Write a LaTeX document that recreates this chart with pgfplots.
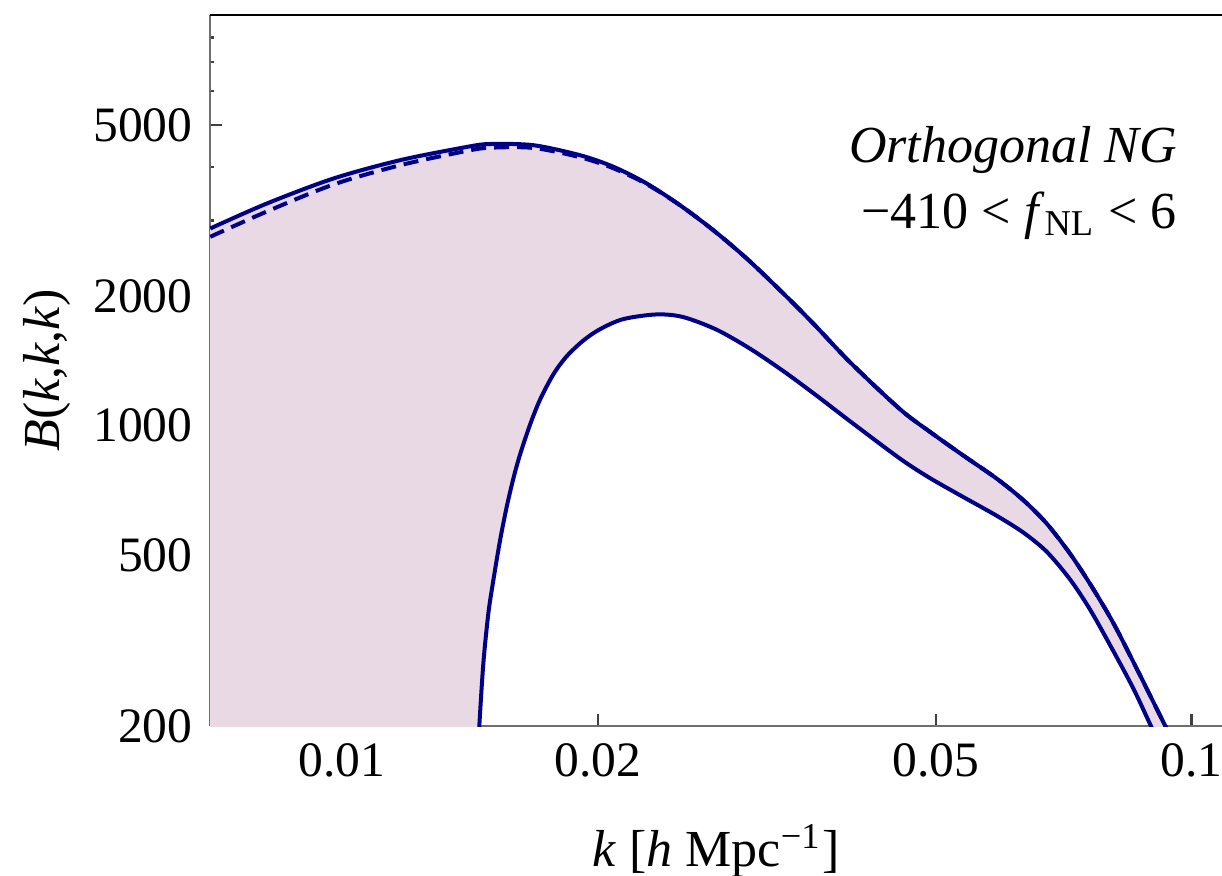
\documentclass[border=0pt]{standalone}
\usepackage{fontspec}
\setmainfont{Liberation Serif}
\usepackage{pgfplots}
\usepackage{pgfplotstable}
\pgfplotsset{compat=1.18}
\usepgfplotslibrary{fillbetween}
\definecolor{linec}{RGB}{0,0,135}
\definecolor{fillc}{RGB}{232,217,228}
\definecolor{axc}{RGB}{110,110,110}
\newcommand{\fs}{\fontsize{10.4pt}{12.5pt}\selectfont}
\newcommand{\ft}{\fontsize{9.9pt}{12pt}\selectfont}
\pgfplotstableread{
k B
0.0069948 2874
0.0081546 3286
0.0097670 3757
0.011701 4144
0.014021 4449
0.014935 4519
0.016794 4490
0.019061 4256
0.020860 4001
0.022834 3658
0.024990 3256
0.027353 2848
0.029944 2447
0.032774 2065
0.035863 1728
0.039613 1405
0.045361 1092
0.049204 967
0.053856 852
0.058958 753
0.063366 671
0.067510 592
0.071911 504
0.075912 429
0.080136 359
0.083845 303
0.093011 201
0.096880 170
}\tabUp
\pgfplotstableread{
k B
0.0069948 2749
0.0081546 3148
0.0097670 3638
0.011701 4033
0.014021 4355
0.014935 4430
0.016794 4425
0.019061 4210
0.020860 3969
0.022834 3644
0.024990 3256
0.027353 2848
0.029944 2447
0.032774 2065
0.035863 1728
0.039613 1405
0.045361 1092
0.049204 967
0.053856 852
0.058958 753
0.063366 671
0.067510 592
0.071911 504
0.075912 429
0.080136 359
0.083845 303
0.093011 201
0.096880 170
}\tabDash
\pgfplotstableread{
k B
0.014460 170
0.014508 201
0.014666 280
0.014866 366
0.015069 437
0.015345 541
0.015626 648
0.015908 753
0.016199 856
0.016645 1005
0.017102 1149
0.017730 1316
0.018386 1450
0.019232 1577
0.020120 1676
0.021433 1769
0.023465 1814
0.025214 1788
0.027606 1671
0.030212 1510
0.033068 1339
0.036195 1174
0.039613 1024
0.045361 838
0.049204 755
0.053856 682
0.058958 617
0.063366 564
0.067510 509
0.071911 439
0.075912 374
0.080507 304
0.085358 245
0.089473 201
0.093011 171
}\tabLo
\pgfplotstableread{
k B
0.0069948 150
0.014300 150
0.014460 170
0.014508 201
0.014666 280
0.014866 366
0.015069 437
0.015345 541
0.015626 648
0.015908 753
0.016199 856
0.016645 1005
0.017102 1149
0.017730 1316
0.018386 1450
0.019232 1577
0.020120 1676
0.021433 1769
0.023465 1814
0.025214 1788
0.027606 1671
0.030212 1510
0.033068 1339
0.036195 1174
0.039613 1024
0.045361 838
0.049204 755
0.053856 682
0.058958 617
0.063366 564
0.067510 509
0.071911 439
0.075912 374
0.080507 304
0.085358 245
0.089473 201
0.093011 171
}\tabLoExt
\begin{document}
\begin{tikzpicture}
\begin{axis}[
  at={(0,0)}, anchor=south west,
  scale only axis, width=202.4pt, height=142.2pt,
  xmode=log, ymode=log,
  xmin=0.00699, xmax=0.1086, ymin=200, ymax=9020,
  axis lines*=left,
  axis line style={axc, line width=0.45pt, -},
  tick align=inside,
  tick style={black!75, line width=0.45pt},
  major tick length=2.5pt, minor tick length=0.75pt,
  xtick={0.01,0.02,0.05,0.1}, xticklabels={0.01,0.02,0.05,0.1},
  ytick={200,500,1000,2000,5000}, yticklabels={200,500,1000,2000,5000},
  minor ytick={300,400,600,700,800,900,3000,4000,6000,7000,8000},
  xminorticks=false,
  /pgf/number format/assume math mode=true,
  tick label style={font=\ft},
  xlabel={\textit{k} [\textit{h} Mpc\textsuperscript{−1}]},
  ylabel={\textit{B}(\textit{k},\textit{k},\textit{k})},
  every axis x label/.style={at={(axis description cs:0.5,-0.198)}, anchor=base, font=\fs},
  every axis y label/.style={at={(axis description cs:-0.161,0.5)}, anchor=center, rotate=90, font=\fs},
  clip=true,
]
% boundaries for the shaded band
\addplot[draw=none, smooth, tension=0.5, name path=up] table[x=k,y=B] {\tabUp};
\addplot[draw=none, smooth, tension=0.5, name path=lo] table[x=k,y=B] {\tabLoExt};
\addplot[fill=fillc, draw=none] fill between[of=up and lo];
% curves
\addplot[linec, line width=0.8pt, dash pattern=on 3pt off 1.6pt, smooth, tension=0.5] table[x=k,y=B] {\tabDash};
\addplot[linec, line width=0.8pt, smooth, tension=0.5] table[x=k,y=B] {\tabUp};
\addplot[linec, line width=0.8pt, smooth, tension=0.5] table[x=k,y=B] {\tabLo};
\node[anchor=base east, font=\fs, inner sep=0pt] at (rel axis cs:0.9565,0.792) {\textit{Orthogonal NG}};
\node[anchor=base east, font=\fs, inner sep=0pt] at (rel axis cs:0.9565,0.700) {−410 < \textit{f}\textsubscript{NL} < 6};
\draw[black, line width=0.45pt] (rel axis cs:0,1) -- (rel axis cs:1,1);
\end{axis}
\pgfresetboundingbox
\path[use as bounding box] (-42pt,-29.8pt) rectangle (202.4pt,145.2pt);
\end{tikzpicture}
\end{document}
